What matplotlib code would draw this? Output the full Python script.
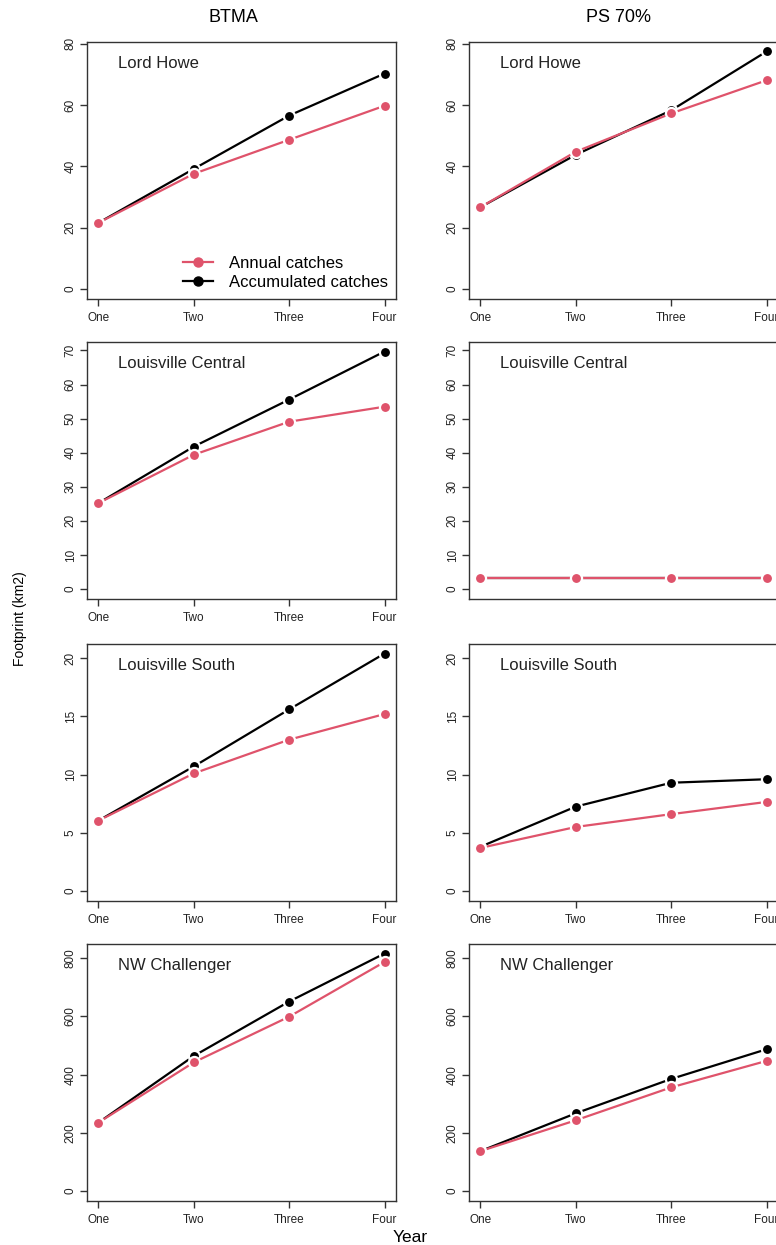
import numpy as np
import matplotlib
matplotlib.use('Agg')
import matplotlib.pyplot as plt
from matplotlib.lines import Line2D

plt.rcParams['font.family'] = ['Liberation Sans', 'DejaVu Sans']

W, H, DPI = 776, 1245, 100
PINK = '#DF536B'
FRAME = '#333333'

years = ['One', 'Two', 'Three', 'Four']
sites = ['Lord Howe', 'Louisville Central', 'Louisville South', 'NW Challenger']
methods = ['BTMA', 'PS 70%']

# footprint (km2) per site, years One..Four
btma_annual = [
    [21.6, 37.6, 48.7, 59.8],
    [25.2, 39.4, 49.1, 53.5],
    [6.05, 10.1, 13.0, 15.2],
    [235, 442, 599, 787],
]
btma_accum = [
    [21.6, 39.2, 56.6, 70.3],
    [25.2, 41.8, 55.6, 69.7],
    [6.05, 10.7, 15.6, 20.4],
    [235, 464, 651, 816],
]
ps_annual = [
    [26.7, 44.8, 57.3, 68.1],
    [3.3, 3.3, 3.3, 3.3],
    [3.7, 5.5, 6.6, 7.65],
    [137, 243, 356, 447],
]
ps_accum = [
    [26.7, 43.8, 58.3, 77.5],
    [3.3, 3.3, 3.3, 3.3],
    [3.8, 7.25, 9.3, 9.6],
    [137, 267, 385, 487],
]
yticks = [range(0, 81, 20), range(0, 71, 10), range(0, 21, 5), range(0, 801, 200)]

annual = [btma_annual, ps_annual]
accum = [btma_accum, ps_accum]

# panel frames in pixels
col_left = [87, 469]
row_top = [42, 342, 644, 944]
pw, ph = 309, 256.5

fig = plt.figure(figsize=(W / DPI, H / DPI), dpi=DPI)
x = np.arange(1, len(years) + 1)


def draw_series(ax, y, color):
    ax.plot(x, y, color=color, lw=1.6, marker='o', ms=8, mfc=color,
            mec='white', mew=1.6)


for r, site in enumerate(sites):
    # shared y range across both methods, with R-style 4% padding
    ymax = max(max(accum[0][r]), max(accum[1][r]), max(annual[0][r]), max(annual[1][r]))
    pad = 0.04 * ymax
    for c in range(2):
        ax = fig.add_axes([col_left[c] / W, 1 - (row_top[r] + ph) / H, pw / W, ph / H])
        draw_series(ax, accum[c][r], 'black')
        draw_series(ax, annual[c][r], PINK)
        ax.set_xlim(1 - 0.12, len(years) + 0.12)
        ax.set_ylim(-pad, ymax + pad)
        ax.set_yticks(list(yticks[r]))
        ax.set_xticks(x)
        ax.set_xticklabels(years)
        ax.tick_params(axis='both', direction='out', length=5, width=1,
                       color=FRAME, labelsize=8.5, labelcolor='#222222')
        ax.tick_params(axis='x', pad=5)
        ax.tick_params(axis='y', pad=2.5)
        for lab in ax.get_yticklabels():
            lab.set_rotation(90)
            lab.set_va('center')
        for sp in ax.spines.values():
            sp.set_color(FRAME)
            sp.set_linewidth(1)
        if r == 1 and c == 1:
            ax.tick_params(axis='x', bottom=False, labelbottom=False)
        ax.text(0.1, 0.918, site, transform=ax.transAxes, fontsize=12,
                ha='left', va='center', color='#222222')
        if r == 0 and c == 0:
            handles = [Line2D([], [], color=PINK, lw=1.6, marker='o', ms=6.5),
                       Line2D([], [], color='black', lw=1.6, marker='o', ms=6.5)]
            ax.legend(handles, ['Annual catches', 'Accumulated catches'],
                      loc='lower right', frameon=False, fontsize=12,
                      handlelength=1.8, handletextpad=0.95, labelspacing=0.25,
                      borderpad=0.2, borderaxespad=0.3)

fig.text(233 / W, 1 - 18 / H, methods[0], fontsize=13, ha='center', va='center')
fig.text(619 / W, 1 - 18 / H, methods[1], fontsize=13, ha='center', va='center')
fig.text(20 / W, 1 - 619 / H, 'Footprint (km2)', fontsize=10, rotation=90,
         ha='center', va='center')
fig.text(410 / W, 1 - 1237 / H, 'Year', fontsize=12.5, ha='center', va='center')

fig.savefig('out.png', dpi=DPI)
